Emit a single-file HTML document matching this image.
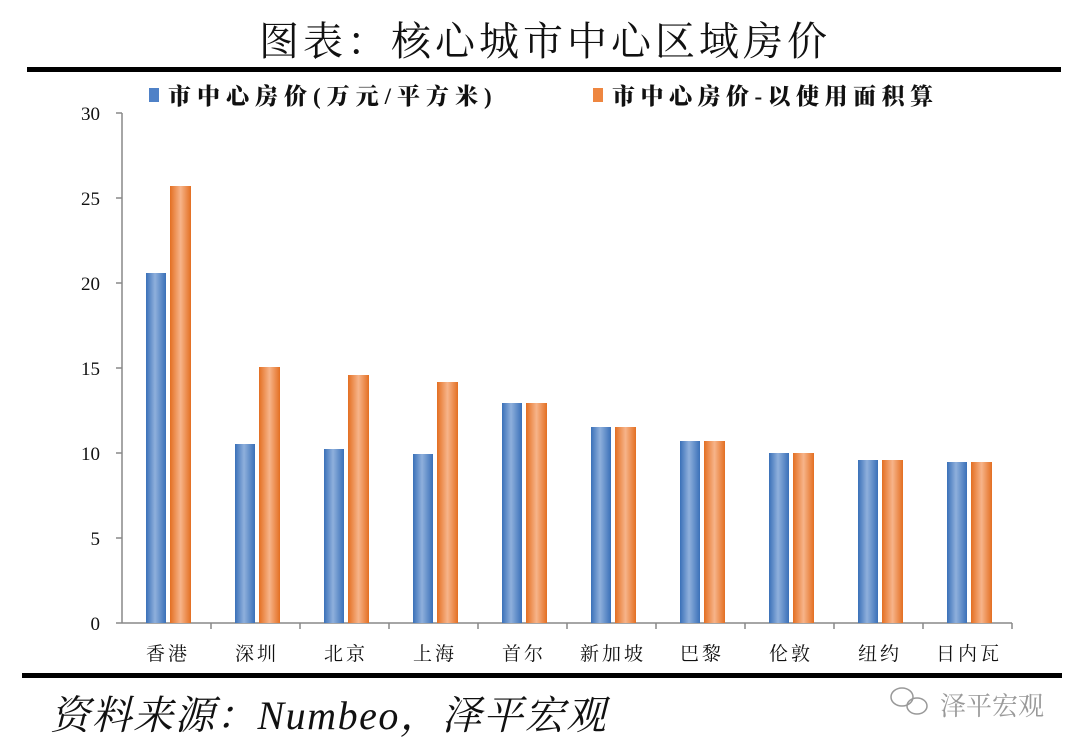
<!DOCTYPE html>
<html><head><meta charset="utf-8"><style>
html,body{margin:0;padding:0;background:#fff;}
svg{display:block;}
text{font-family:"Liberation Serif","Noto Serif CJK SC",serif;}
</style></head><body>
<svg width="1080" height="751" viewBox="0 0 1080 751" xmlns="http://www.w3.org/2000/svg">
<defs>
<linearGradient id="gb" x1="0" x2="1" y1="0" y2="0">
<stop offset="0" stop-color="#3a70b8"/><stop offset="0.45" stop-color="#8fb0dc"/><stop offset="1" stop-color="#3a70b8"/></linearGradient>
<linearGradient id="go" x1="0" x2="1" y1="0" y2="0">
<stop offset="0" stop-color="#e36f22"/><stop offset="0.5" stop-color="#f7b48a"/><stop offset="1" stop-color="#e36f22"/></linearGradient>
</defs>
<text x="545" y="55" text-anchor="middle" font-size="40" fill="#111" letter-spacing="4">图表：核心城市中心区域房价</text>
<rect x="27" y="67" width="1034" height="5" fill="#000"/>
<rect x="149" y="88" width="10" height="14" fill="#4f81c7"/>
<text x="168" y="104" font-size="23" font-weight="900" fill="#111" letter-spacing="6" font-family="'Noto Sans CJK SC',sans-serif">市中心房价(万元/平方米)</text>
<rect x="593" y="88" width="10" height="14" fill="#ee8640"/>
<text x="612" y="104" font-size="23" font-weight="900" fill="#111" letter-spacing="5.5" font-family="'Noto Sans CJK SC',sans-serif">市中心房价-以使用面积算</text>
<g stroke="#888" stroke-width="1.5" fill="none">
<line x1="122" y1="113" x2="122" y2="623"/>
<line x1="122" y1="623" x2="1012" y2="623"/>
<line x1="116" y1="113" x2="122" y2="113"/><line x1="116" y1="198" x2="122" y2="198"/><line x1="116" y1="283" x2="122" y2="283"/><line x1="116" y1="368" x2="122" y2="368"/><line x1="116" y1="453" x2="122" y2="453"/><line x1="116" y1="538" x2="122" y2="538"/><line x1="116" y1="623" x2="122" y2="623"/>
<line x1="211" y1="623" x2="211" y2="629"/><line x1="300" y1="623" x2="300" y2="629"/><line x1="389" y1="623" x2="389" y2="629"/><line x1="478" y1="623" x2="478" y2="629"/><line x1="567" y1="623" x2="567" y2="629"/><line x1="656" y1="623" x2="656" y2="629"/><line x1="745" y1="623" x2="745" y2="629"/><line x1="834" y1="623" x2="834" y2="629"/><line x1="923" y1="623" x2="923" y2="629"/><line x1="1012" y1="623" x2="1012" y2="629"/>
</g>
<g font-size="19" fill="#111" text-anchor="end">
<text x="100" y="120">30</text><text x="100" y="205">25</text><text x="100" y="290">20</text><text x="100" y="375">15</text><text x="100" y="460">10</text><text x="100" y="545">5</text><text x="100" y="630">0</text>
</g>
<g>
<rect x="146" y="273" width="20" height="350" fill="url(#gb)"/><rect x="170" y="186" width="21" height="437" fill="url(#go)"/>
<rect x="235" y="444" width="20" height="179" fill="url(#gb)"/><rect x="259" y="367" width="21" height="256" fill="url(#go)"/>
<rect x="324" y="449" width="20" height="174" fill="url(#gb)"/><rect x="348" y="375" width="21" height="248" fill="url(#go)"/>
<rect x="413" y="454" width="20" height="169" fill="url(#gb)"/><rect x="437" y="382" width="21" height="241" fill="url(#go)"/>
<rect x="502" y="403" width="20" height="220" fill="url(#gb)"/><rect x="526" y="403" width="21" height="220" fill="url(#go)"/>
<rect x="591" y="427" width="20" height="196" fill="url(#gb)"/><rect x="615" y="427" width="21" height="196" fill="url(#go)"/>
<rect x="680" y="441" width="20" height="182" fill="url(#gb)"/><rect x="704" y="441" width="21" height="182" fill="url(#go)"/>
<rect x="769" y="453" width="20" height="170" fill="url(#gb)"/><rect x="793" y="453" width="21" height="170" fill="url(#go)"/>
<rect x="858" y="460" width="20" height="163" fill="url(#gb)"/><rect x="882" y="460" width="21" height="163" fill="url(#go)"/>
<rect x="947" y="462" width="20" height="161" fill="url(#gb)"/><rect x="971" y="462" width="21" height="161" fill="url(#go)"/>
</g>
<g font-size="19" fill="#111" text-anchor="middle" letter-spacing="3">
<text x="168" y="660">香港</text><text x="257" y="660">深圳</text><text x="346" y="660">北京</text><text x="435" y="660">上海</text><text x="524" y="660">首尔</text><text x="613" y="660">新加坡</text><text x="702" y="660">巴黎</text><text x="791" y="660">伦敦</text><text x="880" y="660">纽约</text><text x="969" y="660">日内瓦</text>
</g>
<rect x="22" y="673" width="1040" height="5" fill="#000"/>
<text x="50" y="729" font-size="40" font-style="italic" fill="#111" letter-spacing="1.5">资料来源：Numbeo，泽平宏观</text>
<g fill="none" stroke="#999" stroke-width="1.5">
<ellipse cx="902" cy="697" rx="11" ry="9"/><ellipse cx="917" cy="706" rx="10" ry="8"/>
</g>
<text x="940" y="715" font-size="26" fill="#999" font-family="'Noto Sans CJK SC',sans-serif">泽平宏观</text>
</svg>
</body></html>
